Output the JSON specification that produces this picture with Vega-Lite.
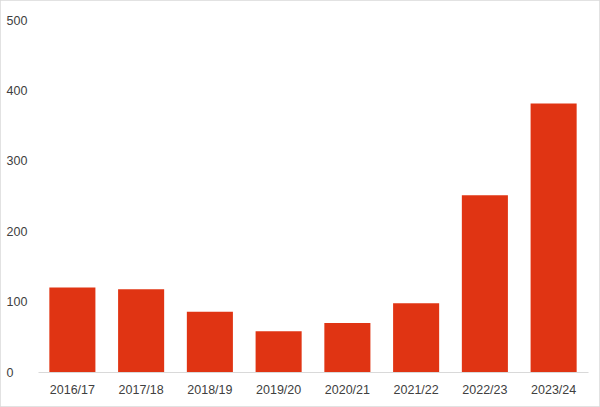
{
  "$schema": "https://vega.github.io/schema/vega-lite/v6.json",
  "width": 600,
  "height": 407,
  "padding": 0,
  "autosize": {"type": "none"},
  "background": "white",
  "config": {
    "view": {"stroke": "#d9d9d9", "strokeWidth": 1.5},
    "axis": {"labelFont": "Liberation Sans", "labelFontSize": 12.5, "labelColor": "#404040", "grid": false, "ticks": false, "title": null}
  },
  "data": {
    "values": [
      {"year": "2016/17", "value": 120},
      {"year": "2017/18", "value": 117.5},
      {"year": "2018/19", "value": 85.5},
      {"year": "2019/20", "value": 58},
      {"year": "2020/21", "value": 69.5},
      {"year": "2021/22", "value": 97.5},
      {"year": "2022/23", "value": 251},
      {"year": "2023/24", "value": 381.5}
    ]
  },
  "mark": {"type": "bar", "color": "#e03413"},
  "encoding": {
    "x": {
      "field": "year", "type": "ordinal", "sort": null,
      "scale": {"range": [38, 588], "paddingInner": 0.33, "paddingOuter": 0.165},
      "axis": {"orient": "bottom", "offset": -35, "labelAngle": 0, "labelPadding": 11, "domainColor": "#d9d9d9", "domainWidth": 1}
    },
    "y": {
      "field": "value", "type": "quantitative",
      "scale": {"domain": [0, 500], "range": [372, 20], "nice": false},
      "axis": {"orient": "left", "offset": -6, "values": [0, 100, 200, 300, 400, 500], "labelAlign": "left", "labelPadding": 0, "domain": false}
    }
  }
}
